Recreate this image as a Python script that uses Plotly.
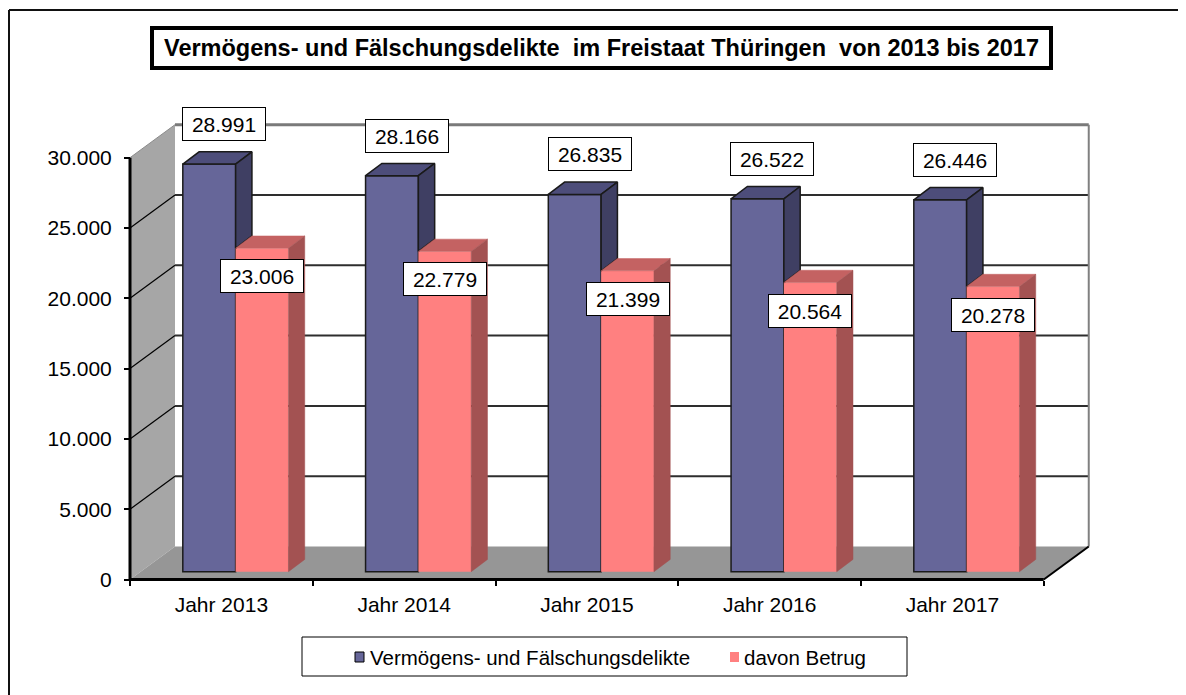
import plotly.graph_objects as go

# ---------------- data ----------------
categories = ["Jahr 2013", "Jahr 2014", "Jahr 2015", "Jahr 2016", "Jahr 2017"]
series_names = ["Vermögens- und Fälschungsdelikte", "davon Betrug"]
total = [28991, 28166, 26835, 26522, 26446]
betrug = [23006, 22779, 21399, 20564, 20278]
y_tickvals = [0, 5000, 10000, 15000, 20000, 25000, 30000]
y_ticktext = ["0", "5.000", "10.000", "15.000", "20.000", "25.000", "30.000"]
title_text = "Vermögens- und Fälschungsdelikte  im Freistaat Thüringen  von 2013 bis 2017"

# ---------------- geometry / style ----------------
W, H = 1186, 695
PAGE_MARGIN = 8                      # default body margin of the html page
FW, FH = W - PAGE_MARGIN, H - PAGE_MARGIN
FONT = "Liberation Sans, Arial, sans-serif"
PXX = 182.75             # px per category unit
PXY = 421.8 / 30000      # px per value unit
AX_L, AX_B = 130.0, 579.5


def pxp(px):
    return (px - PAGE_MARGIN) / FW


def pyp(py):
    return (H - py) / FH


def px_x(px):
    return (px - AX_L) / PXX - 0.5


def px_y(py):
    return (AX_B - py) / PXY


XR = [px_x(120), px_x(1100)]
YR = [px_y(590), px_y(108)]
WX, WY = 45 / PXX, 33 / PXY          # wall depth
BX, BY = 16.3 / PXX, 12.3 / PXY      # bar depth
BASE = 7.8 / PXY                     # bar front plane lift
OFF_B, BW = -0.211, 0.289
OFF_R = OFF_B + BW
YMAX = y_tickvals[-1]
N = len(categories)
xs = list(range(N))
XE = N - 0.5

BLUE, BLUE_TOP, BLUE_SIDE = "#666699", "#4d4d7a", "#3f3f63"
RED, RED_TOP, RED_SIDE = "#ff8080", "#c46262", "#a35252"
EDGE = "#1a1a1a"


def fmt(v):
    return f"{v:,}".replace(",", ".")


fig = go.Figure()

fig.add_trace(go.Bar(x=xs, y=total, base=BASE, offset=OFF_B, width=BW,
                     name=series_names[0], marker=dict(color=BLUE, line=dict(color=EDGE, width=1.5))))
fig.add_trace(go.Bar(x=xs, y=betrug, base=BASE, offset=OFF_R, width=BW,
                     name=series_names[1], marker=dict(color=RED, line=dict(width=0))))


def poly_trace(px, py, fill, line_color, lw):
    return go.Scatter(x=px, y=py, mode="lines", fill="toself", fillcolor=fill,
                      line=dict(color=line_color, width=lw), hoverinfo="skip", showlegend=False)


# blue tops
tx, ty = [], []
for i in xs:
    xl = i + OFF_B
    xr = xl + BW
    t = BASE + total[i]
    tx += [xl, xr, xr + BX, xl + BX, xl, None]
    ty += [t, t, t + BY, t + BY, t, None]
fig.add_trace(poly_trace(tx, ty, BLUE_TOP, EDGE, 1.5))

# blue sides (visible part above the red bar)
sx, sy = [], []
for i in xs:
    xr = i + OFF_B + BW
    tr = BASE + betrug[i]
    tb = BASE + total[i]
    sx += [xr, xr + BX, xr + BX, xr, xr, None]
    sy += [tr, tr + BY, tb + BY, tb, tr, None]
fig.add_trace(poly_trace(sx, sy, BLUE_SIDE, EDGE, 1.5))

# red tops
tx, ty = [], []
for i in xs:
    xl = i + OFF_R
    xr = xl + BW
    t = BASE + betrug[i]
    tx += [xl, xr, xr + BX, xl + BX, xl, None]
    ty += [t, t, t + BY, t + BY, t, None]
fig.add_trace(poly_trace(tx, ty, RED_TOP, RED_TOP, 0.5))

# red sides
sx, sy = [], []
for i in xs:
    xr = i + OFF_R + BW
    t = BASE + betrug[i]
    sx += [xr, xr + BX, xr + BX, xr, xr, None]
    sy += [BASE, BASE + BY, t + BY, t, BASE, None]
fig.add_trace(poly_trace(sx, sy, RED_SIDE, RED_SIDE, 0.5))

# ---------------- walls, floor, grid ----------------
shapes = []
shapes.append(dict(type="path", layer="below", xref="x", yref="y",
                   path=f"M {-0.5},0 L {-0.5 + WX},{WY} L {-0.5 + WX},{YMAX + WY} L {-0.5},{YMAX} Z",
                   fillcolor="#a6a6a6", line=dict(width=0)))
shapes.append(dict(type="path", layer="below", xref="x", yref="y",
                   path=f"M {-0.5},0 L {XE},0 L {XE + WX},{WY} L {-0.5 + WX},{WY} Z",
                   fillcolor="#969696", line=dict(width=0)))
for v in y_tickvals[1:-1]:
    shapes.append(dict(type="line", layer="below", xref="x", yref="y",
                       x0=-0.5, y0=v, x1=-0.5 + WX, y1=v + WY, line=dict(color="#000000", width=1.2)))
    shapes.append(dict(type="line", layer="below", xref="x", yref="y",
                       x0=-0.5 + WX, y0=v + WY, x1=XE + WX, y1=v + WY, line=dict(color="#2e2e2e", width=2)))
# back wall top and right edges
shapes.append(dict(type="line", layer="below", xref="x", yref="y",
                   x0=-0.5 + WX, y0=YMAX + WY, x1=XE + WX, y1=YMAX + WY, line=dict(color="#7a7a7a", width=3)))
shapes.append(dict(type="line", layer="below", xref="x", yref="y",
                   x0=XE + WX, y0=WY, x1=XE + WX, y1=YMAX + WY, line=dict(color="#808080", width=2)))
shapes.append(dict(type="line", layer="below", xref="x", yref="y",
                   x0=-0.5, y0=YMAX, x1=-0.5 + WX, y1=YMAX + WY, line=dict(color="#8a8a8a", width=1)))
# floor right edge, front axis lines
shapes.append(dict(type="line", layer="above", xref="x", yref="y",
                   x0=XE, y0=0, x1=XE + WX, y1=WY, line=dict(color="#000000", width=2)))
shapes.append(dict(type="line", layer="above", xref="x", yref="y",
                   x0=-0.5, y0=0, x1=XE, y1=0, line=dict(color="#000000", width=3)))
shapes.append(dict(type="line", layer="above", xref="x", yref="y",
                   x0=-0.5, y0=0, x1=-0.5, y1=YMAX, line=dict(color="#000000", width=3)))

# outer frame (top and left edges visible)
shapes.append(dict(type="line", xref="paper", yref="paper", x0=pxp(9), y0=pyp(10), x1=pxp(1200), y1=pyp(10),
                   line=dict(color="#111111", width=2)))
shapes.append(dict(type="line", xref="paper", yref="paper", x0=pxp(9), y0=pyp(10), x1=pxp(9), y1=pyp(710),
                   line=dict(color="#111111", width=2)))
# legend box and keys
shapes.append(dict(type="rect", xref="paper", yref="paper", x0=pxp(302), y0=pyp(637), x1=pxp(907), y1=pyp(676),
                   line=dict(color="#000000", width=1), fillcolor="white"))
shapes.append(dict(type="rect", xref="paper", yref="paper", x0=pxp(355), y0=pyp(652), x1=pxp(364), y1=pyp(662),
                   line=dict(color="#000000", width=1), fillcolor=BLUE))
shapes.append(dict(type="rect", xref="paper", yref="paper", x0=pxp(730), y0=pyp(652), x1=pxp(739), y1=pyp(662),
                   line=dict(width=0), fillcolor=RED))

annotations = []
for i in xs:
    annotations.append(dict(x=i + OFF_B + BW / 2, y=BASE + total[i], xref="x", yref="y",
                            text=fmt(total[i]), showarrow=False, xshift=15, yshift=40,
                            xanchor="center", yanchor="middle",
                            font=dict(family=FONT, size=21, color="black"),
                            bgcolor="white", bordercolor="black", borderwidth=1, borderpad=3,
                            width=76, height=26))
    annotations.append(dict(x=i + OFF_R + BW / 2, y=BASE + betrug[i], xref="x", yref="y",
                            text=fmt(betrug[i]), showarrow=False, xshift=0, yshift=-28,
                            xanchor="center", yanchor="middle",
                            font=dict(family=FONT, size=21, color="black"),
                            bgcolor="white", bordercolor="black", borderwidth=1, borderpad=3,
                            width=76, height=26))
annotations.append(dict(x=pxp(601.5), y=pyp(48), xref="paper", yref="paper",
                        text=title_text.replace("  ", " \u00a0"),
                        xanchor="center", yanchor="middle",
                        showarrow=False, font=dict(family=FONT, size=23.5, color="black", weight="bold"),
                        bgcolor="white", bordercolor="black", borderwidth=4, borderpad=1,
                        width=893, height=34))
annotations.append(dict(x=pxp(368), y=pyp(657), xref="paper", yref="paper", text=series_names[0],
                        showarrow=False, xanchor="left", yanchor="middle",
                        font=dict(family=FONT, size=20.5, color="black")))
annotations.append(dict(x=pxp(742), y=pyp(657), xref="paper", yref="paper", text=series_names[1],
                        showarrow=False, xanchor="left", yanchor="middle",
                        font=dict(family=FONT, size=20.5, color="black")))

fig.update_layout(
    width=FW, height=FH, margin=dict(l=0, r=0, t=0, b=0),
    paper_bgcolor="white", plot_bgcolor="white",
    barmode="overlay", showlegend=False,
    shapes=shapes, annotations=annotations,
    font=dict(family=FONT, size=21, color="black"),
    xaxis=dict(domain=[pxp(120), pxp(1100)], range=XR, anchor="free", position=pyp(AX_B),
               tickmode="array", tickvals=xs, ticktext=categories, ticks="",
               minor=dict(tickmode="linear", tick0=-0.5, dtick=1, ticks="outside", ticklen=5,
                          tickwidth=2, tickcolor="black", showgrid=False),
               showgrid=False, zeroline=False, showline=False, fixedrange=True,
               ticklabelstandoff=10,
               tickfont=dict(family=FONT, size=21, color="black")),
    yaxis=dict(domain=[pyp(590), pyp(108)], range=YR, anchor="free", position=pxp(AX_L),
               tickmode="array", tickvals=y_tickvals, ticktext=y_ticktext,
               ticks="outside", ticklen=6, tickwidth=2, tickcolor="black",
               showgrid=False, zeroline=False, showline=False, fixedrange=True,
               ticklabelstandoff=8,
               tickfont=dict(family=FONT, size=21, color="black")),
)

fig.write_html("out.html")
